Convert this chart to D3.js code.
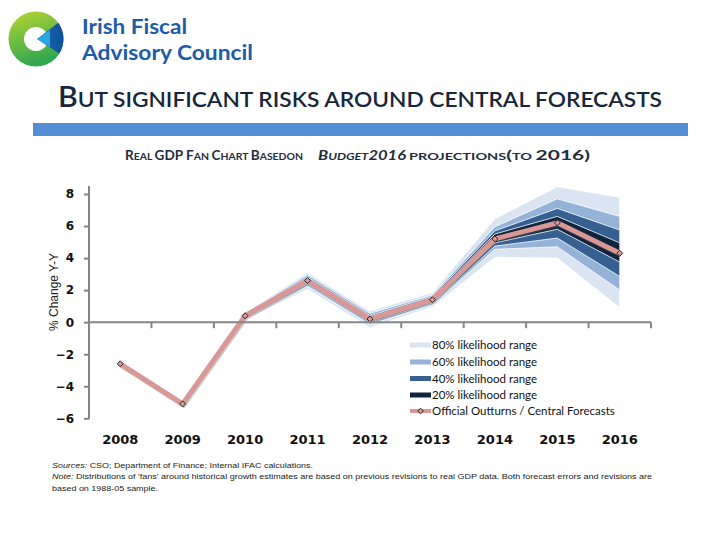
<!DOCTYPE html>
<html><head><meta charset="utf-8">
<script src="https://cdn.jsdelivr.net/npm/d3@7"></script>
<style>
html,body{margin:0;padding:0;background:#fff;}
svg{display:block;}
</style></head>
<body>
<svg id="c" width="720" height="540"></svg>
<script>
// ---------------- data ----------------
const years = [2008, 2009, 2010, 2011, 2012, 2013, 2014, 2015, 2016];
const central = [-2.6, -5.1, 0.4, 2.6, 0.2, 1.4, 5.2, 6.2, 4.3];
// fan band bounds
const low80 = [-2.6, -5.1, 0.15, 2.05, -0.35, 0.95, 4.05, 4.0, 0.9];
const up80  = [-2.6, -5.1, 0.6, 3.1, 0.7, 1.85, 6.45, 8.45, 7.8];
const low60 = [-2.6, -5.1, 0.25, 2.25, -0.15, 1.1, 4.55, 4.7, 2.0];
const up60  = [-2.6, -5.1, 0.55, 2.95, 0.55, 1.7, 5.95, 7.7, 6.6];
const low40 = [-2.6, -5.1, 0.3, 2.4, 0.0, 1.2, 4.75, 5.25, 2.85];
const up40  = [-2.6, -5.1, 0.5, 2.8, 0.4, 1.6, 5.7, 7.1, 5.75];
const low20 = [-2.6, -5.1, 0.35, 2.5, 0.1, 1.3, 4.95, 5.8, 3.75];
const up20  = [-2.6, -5.1, 0.45, 2.7, 0.3, 1.5, 5.5, 6.6, 4.95];
const yTicks = [-6, -4, -2, 0, 2, 4, 6, 8];
const legendLabels = ["80% likelihood range", "60% likelihood range", "40% likelihood range", "20% likelihood range", "Official Outturns / Central Forecasts"];

const bandColors = ["#dbe5f1", "#95b3d7", "#376092", "#10243e"];
const lineColor = "#d99795";

const svg = d3.select("#c");

// ---------------- logo ----------------
const defs = svg.append("defs");
const gg = defs.append("linearGradient").attr("id","gr").attr("x1","0").attr("y1","0").attr("x2","0.3").attr("y2","1");
gg.append("stop").attr("offset","0").attr("stop-color","#b9d532");
gg.append("stop").attr("offset","1").attr("stop-color","#2fa84f");
const bg = defs.append("linearGradient").attr("id","bl").attr("x1","0").attr("y1","0").attr("x2","1").attr("y2","0");
bg.append("stop").attr("offset","0").attr("stop-color","#1c70b8");
bg.append("stop").attr("offset","1").attr("stop-color","#0d4f98");

const cx = 36, cy = 39, R = 27.5, r0 = 12;
svg.append("circle").attr("cx",cx).attr("cy",cy).attr("r",R).attr("fill","url(#gr)");
svg.append("circle").attr("cx",cx).attr("cy",cy).attr("r",r0).attr("fill","#fff");
const a1 = -36*Math.PI/180, a2 = 32*Math.PI/180;
const ax = cx+1, ay = cy;
svg.append("path")
  .attr("d", `M${ax},${ay} L${cx+R*Math.cos(a1)},${cy+R*Math.sin(a1)} A${R},${R} 0 0 1 ${cx+R*Math.cos(a2)},${cy+R*Math.sin(a2)} Z`)
  .attr("fill","url(#bl)");
svg.append("path")
  .attr("d", `M${ax},${ay} L${cx+14},${cy-9} L${cx+14},${cy+8} Z`)
  .attr("fill","#2ba6e0");

svg.append("text").attr("x",82).attr("y",34).text("Irish Fiscal")
  .attr("font-family","Lato, 'Open Sans', sans-serif").attr("font-weight","bold").attr("font-size",20)
  .attr("fill","#1d5ca8").attr("textLength",105).attr("lengthAdjust","spacingAndGlyphs");
svg.append("text").attr("x",82).attr("y",60).text("Advisory Council")
  .attr("font-family","Lato, 'Open Sans', sans-serif").attr("font-weight","bold").attr("font-size",20)
  .attr("fill","#1d5ca8").attr("textLength",171).attr("lengthAdjust","spacingAndGlyphs");

// ---------------- title ----------------
const title = svg.append("text").attr("x",58).attr("y",107)
  .attr("font-family","Lato, sans-serif").attr("fill","#17263a").attr("font-weight","600")
  .attr("textLength",604).attr("lengthAdjust","spacingAndGlyphs");
const tParts = [["B",28],["UT SIGNIFICANT RISKS AROUND CENTRAL FORECASTS",21]];
tParts.forEach(p => title.append("tspan").attr("font-size",p[1]).text(p[0]));

svg.append("rect").attr("x",33).attr("y",123).attr("width",655).attr("height",13).attr("fill","#558ed5");

// ---------------- subtitle ----------------
function smallCaps(sel, parts){
  parts.forEach(p => {
    const t = sel.append("tspan").attr("font-size",p[1]).text(p[0]);
    if (p[2]) t.attr("font-style","italic");
  });
}
const subAttrs = s => s.attr("font-family","Lato, sans-serif").attr("font-weight","bold").attr("fill","#1f2d3d").attr("lengthAdjust","spacingAndGlyphs");
const s1 = svg.append("text").attr("x",125).attr("y",160).attr("textLength",178).call(subAttrs);
smallCaps(s1, [["R",13],["EAL ",10],["GDP ",13],["F",13],["AN ",10],["C",13],["HART ",10],["B",13],["ASEDON",10]]);
const s2 = svg.append("text").attr("x",318).attr("y",160).attr("textLength",88).call(subAttrs);
smallCaps(s2, [["B",13,1],["UDGET",10,1],["2016",13,1]]);
const s3 = svg.append("text").attr("x",409).attr("y",160).attr("textLength",181).call(subAttrs);
smallCaps(s3, [["PROJECTIONS",9],["(",13],["TO ",9],["2016)",13]]);

// ---------------- chart ----------------
const x = d3.scaleBand().domain(years).range([89, 651]);
const y = d3.scaleLinear().domain([-6, 8]).range([418.3, 194]);
const xc = d => x(d) + x.bandwidth()/2;

const plot = svg.append("g");
const bands = [[low80, up80], [low60, up60], [low40, up40], [low20, up20]];
bands.forEach((b, i) => {
  const area = d3.area().x((d, j) => xc(years[j])).y0((d, j) => y(b[0][j])).y1((d, j) => y(b[1][j]));
  plot.append("path").datum(years).attr("d", area)
    .attr("fill", bandColors[i]).attr("stroke", "#fff").attr("stroke-width", 0.8);
});

const line = d3.line().x((d, j) => xc(years[j])).y(d => y(d));
plot.append("path").datum(central).attr("d", line).attr("transform","translate(1,1.5)")
  .attr("fill","none").attr("stroke","#6b6b6b").attr("stroke-opacity",0.35).attr("stroke-width",5).attr("stroke-linejoin","round");
plot.append("path").datum(central).attr("d", line)
  .attr("fill","none").attr("stroke",lineColor).attr("stroke-width",5).attr("stroke-linejoin","round");
plot.selectAll(".mk").data(central).join("path").attr("class","mk")
  .attr("d", d3.symbol().type(d3.symbolSquare).size(18))
  .attr("transform", (d, j) => `translate(${xc(years[j])},${y(d)}) rotate(45)`)
  .attr("fill", lineColor).attr("stroke","#222").attr("stroke-width",0.9);

// y axis
const yAxis = svg.append("g").attr("transform","translate(89,0)")
  .call(d3.axisLeft(y).tickValues(yTicks).tickSize(5).tickPadding(10).tickFormat(d3.format("d")));
yAxis.select(".domain").remove();
yAxis.append("line").attr("x1",0).attr("x2",0).attr("y1",186).attr("y2",419).attr("stroke","#868686").attr("stroke-width",2);
yAxis.selectAll(".tick line").attr("stroke","#868686").attr("stroke-width",2);
yAxis.selectAll(".tick text").attr("font-family","'DejaVu Sans', sans-serif").attr("font-size",12).attr("fill","#111").attr("font-weight","bold");

// zero axis line with category boundary ticks
const zeroG = svg.append("g");
zeroG.append("line").attr("x1",89).attr("x2",651).attr("y1",y(0)).attr("y2",y(0)).attr("stroke","#868686").attr("stroke-width",2);
zeroG.selectAll(".bt").data(years.slice(1).concat(["end"])).join("line")
  .attr("x1", d => d === "end" ? x.range()[1] : x(d))
  .attr("x2", d => d === "end" ? x.range()[1] : x(d))
  .attr("y1", y(0)).attr("y2", y(0)+6).attr("stroke","#868686").attr("stroke-width",2);

// x labels
const xAxis = svg.append("g").attr("transform","translate(0,418)")
  .call(d3.axisBottom(x).tickSize(0).tickPadding(17));
xAxis.select(".domain").remove();
xAxis.selectAll(".tick text").attr("font-family","'DejaVu Sans', sans-serif").attr("font-size",13).attr("font-weight","bold").attr("fill","#111");

// y axis title
svg.append("text").attr("transform","translate(58,292) rotate(-90)").attr("text-anchor","middle")
  .attr("font-family","'Liberation Sans', Arial, sans-serif").attr("font-size",12).attr("fill","#222")
  .text("% Change Y-Y");

// ---------------- legend ----------------
const lg = svg.append("g");
const ly = [345, 362, 378.5, 395, 411];
legendLabels.forEach((t, i) => {
  if (i < 4) {
    lg.append("rect").attr("x",410).attr("y",ly[i]-2.5).attr("width",21).attr("height",5).attr("fill",bandColors[i]);
  } else {
    lg.append("line").attr("x1",410).attr("x2",431).attr("y1",ly[i]).attr("y2",ly[i]).attr("stroke",lineColor).attr("stroke-width",4);
    lg.append("path").attr("d", d3.symbol().type(d3.symbolSquare).size(16))
      .attr("transform",`translate(420.5,${ly[i]}) rotate(45)`).attr("fill",lineColor).attr("stroke","#222").attr("stroke-width",0.9);
  }
  lg.append("text").attr("x",432).attr("y",ly[i]+4).text(t)
    .attr("font-family","Lato, sans-serif").attr("font-size",11.5).attr("fill","#111");
});

// ---------------- footnote ----------------
const fn = (yy, parts, len) => {
  const t = svg.append("text").attr("x",52).attr("y",yy).attr("font-family","'Liberation Sans', Arial, sans-serif")
    .attr("font-size",8).attr("fill","#222").attr("textLength",len).attr("lengthAdjust","spacingAndGlyphs");
  parts.forEach(p => { const s = t.append("tspan").text(p[0]); if (p[1]) s.attr("font-style","italic"); });
};
fn(468, [["Sources:",1],[" CSO; Department of Finance; Internal IFAC calculations.",0]], 261);
fn(479, [["Note:",1],[" Distributions of 'fans' around historical growth estimates are based on previous revisions to real GDP data. Both forecast errors and revisions are",0]], 600);
fn(491, [["based on 1988-05 sample.",0]], 106);
</script>
</body></html>
